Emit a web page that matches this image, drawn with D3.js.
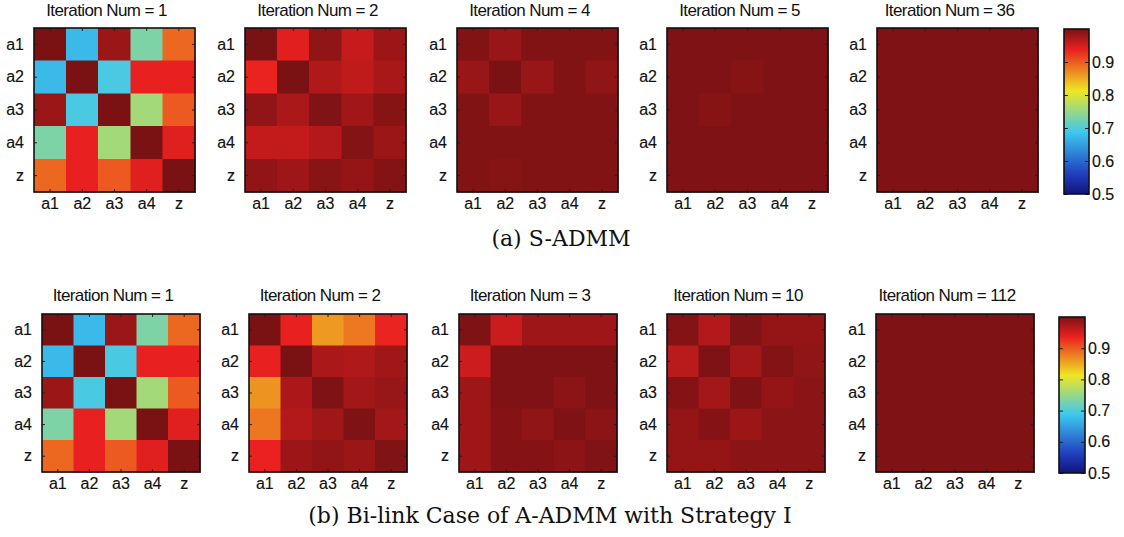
<!DOCTYPE html>
<html>
<head>
<meta charset="utf-8">
<script src="https://cdn.jsdelivr.net/npm/d3@7"></script>
<style>
  body { margin: 0; background: #fff; }
  svg { display: block; }
  .lbl text { font-family: "Liberation Sans", Arial, sans-serif; font-size: 16px; fill: #111; stroke: #111; stroke-width: 0.15px; }
  .title { font-family: "Liberation Sans", Arial, sans-serif; font-size: 17px; letter-spacing: -0.6px; fill: #111; }
  .caption { font-family: "DejaVu Serif", serif; font-size: 22px; fill: #111; }
</style>
</head>
<body>
<svg id="fig" width="1124" height="537"></svg>
<script>
// Agent labels shared by both axes of every consensus matrix
const nodes = ["a1", "a2", "a3", "a4", "z"];
const colorTicks = [0.5, 0.6, 0.7, 0.8, 0.9];
const colorDomain = [0.5, 1.0];

// (a) S-ADMM: similarity matrices at selected iterations
const sadmmIters = [1, 2, 4, 5, 36];
const sadmmIter1 = [
  [1.000, 0.675, 0.982, 0.732, 0.892],
  [0.675, 1.000, 0.695, 0.938, 0.938],
  [0.982, 0.695, 1.000, 0.759, 0.901],
  [0.732, 0.938, 0.759, 1.000, 0.943],
  [0.892, 0.938, 0.901, 0.943, 1.000]
];
const sadmmIter2 = [
  [1.000, 0.942, 0.988, 0.958, 0.981],
  [0.936, 1.000, 0.970, 0.961, 0.974],
  [0.987, 0.973, 0.997, 0.978, 0.993],
  [0.959, 0.959, 0.968, 0.995, 0.982],
  [0.987, 0.980, 0.992, 0.985, 0.995]
];
const sadmmIter4 = [
  [0.996, 0.983, 0.996, 0.996, 0.996],
  [0.983, 1.000, 0.983, 0.996, 0.988],
  [0.996, 0.983, 0.996, 0.996, 0.996],
  [0.996, 0.996, 0.996, 0.996, 0.996],
  [0.996, 0.993, 0.996, 0.996, 0.996]
];
const sadmmIter5 = [
  [0.998, 0.998, 0.998, 0.998, 0.998],
  [0.998, 0.998, 0.993, 0.998, 0.998],
  [0.998, 0.993, 0.998, 0.998, 0.998],
  [0.998, 0.998, 0.998, 0.998, 0.998],
  [0.998, 0.998, 0.998, 0.998, 0.998]
];
const sadmmIter36 = [
  [0.998, 0.998, 0.998, 0.998, 0.998],
  [0.998, 0.998, 0.998, 0.998, 0.998],
  [0.998, 0.998, 0.998, 0.998, 0.998],
  [0.998, 0.998, 0.998, 0.998, 0.998],
  [0.998, 0.998, 0.998, 0.998, 0.998]
];

// (b) Bi-link A-ADMM with Strategy I
const bilinkIters = [1, 2, 3, 10, 112];
const bilinkIter1 = [
  [1.000, 0.675, 0.982, 0.732, 0.892],
  [0.675, 1.000, 0.695, 0.938, 0.938],
  [0.982, 0.695, 1.000, 0.759, 0.901],
  [0.732, 0.938, 0.759, 1.000, 0.943],
  [0.892, 0.938, 0.901, 0.943, 1.000]
];
const bilinkIter2 = [
  [1.000, 0.938, 0.861, 0.882, 0.935],
  [0.938, 1.000, 0.973, 0.970, 0.979],
  [0.865, 0.972, 0.998, 0.977, 0.984],
  [0.883, 0.968, 0.979, 0.998, 0.977],
  [0.937, 0.981, 0.987, 0.982, 0.997]
];
const bilinkIter3 = [
  [0.998, 0.956, 0.980, 0.980, 0.980],
  [0.954, 0.998, 0.998, 0.998, 0.998],
  [0.980, 0.998, 0.998, 0.991, 0.998],
  [0.980, 0.994, 0.988, 0.998, 0.991],
  [0.980, 0.994, 0.994, 0.990, 0.997]
];
const bilinkIter10 = [
  [0.995, 0.968, 0.997, 0.985, 0.985],
  [0.965, 0.998, 0.977, 0.995, 0.988],
  [0.994, 0.977, 0.998, 0.985, 0.991],
  [0.985, 0.994, 0.981, 0.991, 0.991],
  [0.985, 0.985, 0.991, 0.991, 0.991]
];
const bilinkIter112 = [
  [0.998, 0.998, 0.998, 0.998, 0.998],
  [0.998, 0.998, 0.998, 0.998, 0.998],
  [0.998, 0.998, 0.998, 0.998, 0.998],
  [0.998, 0.998, 0.998, 0.998, 0.998],
  [0.998, 0.998, 0.998, 0.998, 0.998]
];

const captionA = "(a) S-ADMM";
const captionB = "(b) Bi-link Case of A-ADMM with Strategy I";

// Jet-style colour map over [0.5, 1]
const jetStops = [0.5, 0.5625, 0.6875, 0.8125, 0.9375, 1.0];
const jetColors = ["#10147a", "#2040c0", "#3ec8ee", "#f0e622", "#ea2020", "#7a1214"];
const color = d3.scaleLinear().domain(jetStops).range(jetColors)
  .interpolate(d3.interpolateRgb).clamp(true);

const svg = d3.select("#fig");

const rows = [
  {
    iters: sadmmIters,
    mats: [sadmmIter1, sadmmIter2, sadmmIter4, sadmmIter5, sadmmIter36],
    lefts: [34, 245, 457, 667, 877], top: 28, w: 161, h: 164, titleY: 16,
    bar: { x: 1064, w: 25, top: 29, bottom: 194 },
    caption: captionA, capX: 561, capY: 246
  },
  {
    iters: bilinkIters,
    mats: [bilinkIter1, bilinkIter2, bilinkIter3, bilinkIter10, bilinkIter112],
    lefts: [42, 249, 459, 667, 876], top: 314, w: 158, h: 158, titleY: 301,
    bar: { x: 1059, w: 26, top: 317, bottom: 473 },
    caption: captionB, capX: 550, capY: 523
  }
];

rows.forEach((row, ri) => {
  row.mats.forEach((mat, pi) => {
    const x0 = row.lefts[pi], y0 = row.top;
    const x = d3.scaleBand().domain(nodes).range([x0, x0 + row.w]);
    const y = d3.scaleBand().domain(nodes).range([y0, y0 + row.h]);
    const g = svg.append("g");

    const cells = nodes.flatMap((r, i) => nodes.map((c, j) => ({ r, c, v: mat[i][j] })));
    g.selectAll("rect.cell").data(cells).join("rect")
      .attr("class", "cell")
      .attr("x", d => x(d.c)).attr("y", d => y(d.r))
      .attr("width", x.bandwidth()).attr("height", y.bandwidth())
      .attr("fill", d => color(d.v)).attr("stroke", d => color(d.v)).attr("stroke-width", 0.5)
      .attr("shape-rendering", "crispEdges");

    // inward tick marks on all four sides
    const tickLen = 3;
    const tickG = g.append("g").attr("stroke", "#222").attr("stroke-width", 1);
    nodes.forEach(n => {
      const cx = x(n) + x.bandwidth() / 2, cy = y(n) + y.bandwidth() / 2;
      tickG.append("line").attr("x1", cx).attr("x2", cx).attr("y1", y0).attr("y2", y0 + tickLen);
      tickG.append("line").attr("x1", cx).attr("x2", cx).attr("y1", y0 + row.h).attr("y2", y0 + row.h - tickLen);
      tickG.append("line").attr("y1", cy).attr("y2", cy).attr("x1", x0).attr("x2", x0 + tickLen);
      tickG.append("line").attr("y1", cy).attr("y2", cy).attr("x1", x0 + row.w).attr("x2", x0 + row.w - tickLen);
    });

    g.append("rect").attr("x", x0).attr("y", y0).attr("width", row.w).attr("height", row.h)
      .attr("fill", "none").attr("stroke", "#111").attr("stroke-width", 1.6);

    // category labels
    const ax = g.append("g").attr("class", "lbl")
      .attr("transform", `translate(0,${y0 + row.h})`)
      .call(d3.axisBottom(x).tickSize(0).tickPadding(5.5));
    ax.select(".domain").remove();
    const ay = g.append("g").attr("class", "lbl")
      .attr("transform", `translate(${x0},0)`)
      .call(d3.axisLeft(y).tickSize(0).tickPadding(10));
    ay.select(".domain").remove();

    g.append("text").attr("class", "title")
      .attr("x", x0 + row.w / 2 - 8).attr("y", row.titleY)
      .attr("text-anchor", "middle")
      .text(`Iteration Num = ${row.iters[pi]}`);
  });

  // colour bar
  const b = row.bar;
  const gradId = `jet${ri}`;
  const grad = svg.append("defs").append("linearGradient").attr("id", gradId)
    .attr("x1", 0).attr("x2", 0).attr("y1", 1).attr("y2", 0);
  grad.selectAll("stop").data(jetStops).join("stop")
    .attr("offset", d => (d - colorDomain[0]) / (colorDomain[1] - colorDomain[0]))
    .attr("stop-color", d => color(d));
  const cy = d3.scaleLinear().domain(colorDomain).range([b.bottom, b.top]);
  const cb = svg.append("g");
  cb.append("rect").attr("x", b.x).attr("y", b.top).attr("width", b.w).attr("height", b.bottom - b.top)
    .attr("fill", `url(#${gradId})`);
  const right = cb.append("g").attr("class", "lbl")
    .attr("transform", `translate(${b.x + b.w},0)`)
    .call(d3.axisRight(cy).tickValues(colorTicks).tickFormat(d3.format(".1f")).tickSizeInner(-4).tickSizeOuter(0).tickPadding(3));
  right.select(".domain").remove();
  right.selectAll("line").attr("stroke", "#222");
  const left = cb.append("g")
    .attr("transform", `translate(${b.x},0)`)
    .call(d3.axisLeft(cy).tickValues(colorTicks).tickFormat("").tickSizeInner(-4).tickSizeOuter(0));
  left.select(".domain").remove();
  left.selectAll("line").attr("stroke", "#222");
  cb.append("rect").attr("x", b.x).attr("y", b.top).attr("width", b.w).attr("height", b.bottom - b.top)
    .attr("fill", "none").attr("stroke", "#111").attr("stroke-width", 1.6);

  svg.append("text").attr("class", "caption")
    .attr("x", row.capX).attr("y", row.capY).attr("text-anchor", "middle")
    .text(row.caption);
});
</script>
</body>
</html>
